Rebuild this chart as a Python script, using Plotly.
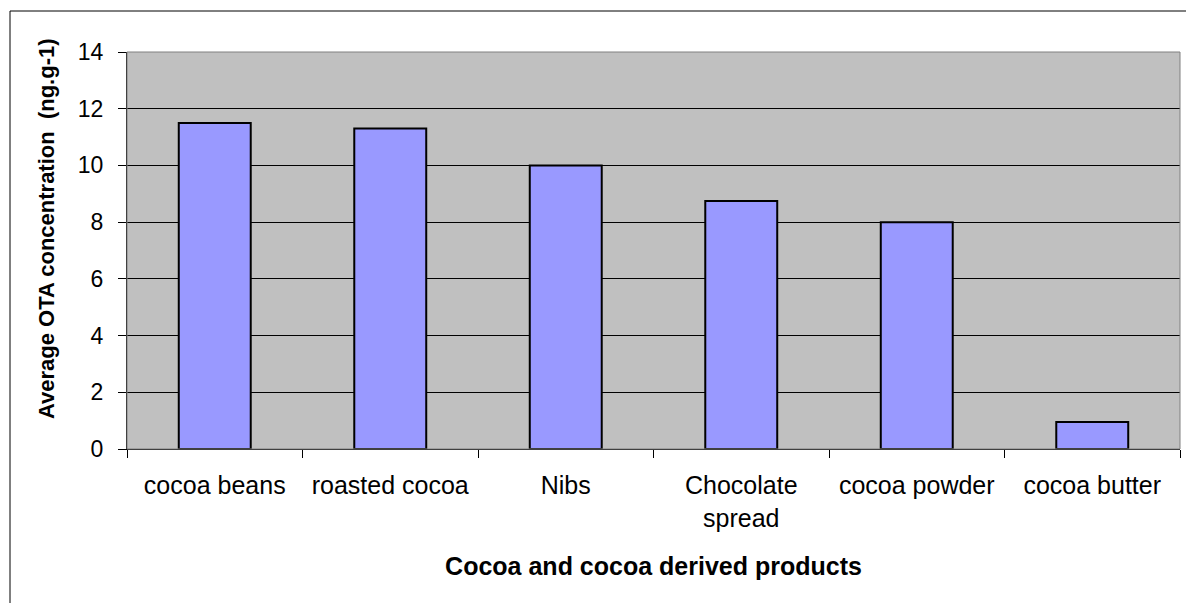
import plotly.graph_objects as go

categories = ["cocoa beans", "roasted cocoa", "Nibs", "Chocolate<br>spread", "cocoa powder", "cocoa butter"]
values = [11.5, 11.3, 10.0, 8.75, 8.0, 0.95]
y_ticks = [0, 2, 4, 6, 8, 10, 12, 14]

W, H = 1186, 603
L, R, T, B = 127, 1180, 52, 449

fig = go.Figure(go.Bar(
    x=categories, y=values,
    marker=dict(color="#9999FF", line=dict(color="black", width=2)),
    width=0.41,
))

pw, ph = R - L, B - T
fig.update_layout(
    width=W, height=H,
    margin=dict(l=L, r=W - R, t=T, b=H - B, pad=0),
    paper_bgcolor="white", plot_bgcolor="#C0C0C0",
    font=dict(family="Liberation Sans, Arial", size=24, color="black"),
    showlegend=False,
    xaxis=dict(
        tickson="boundaries", ticks="outside", ticklen=8, tickcolor="black",
        showline=True, linecolor="black", linewidth=1,
        showgrid=False, ticklabelstandoff=14,
        title=dict(text="<b>Cocoa and cocoa derived products</b>", standoff=26,
                   font=dict(size=25)),
        tickfont=dict(size=25),
    ),
    yaxis=dict(
        range=[0, 14], tickvals=y_ticks, ticks="outside", ticklen=8,
        tickcolor="black", showline=True, linecolor="black", linewidth=1,
        showgrid=True, gridcolor="black", gridwidth=1, zeroline=False,
        ticklabelstandoff=10,
        tickfont=dict(size=23),
    ),
    annotations=[
        dict(text="<b>Average OTA concentration  (ng.g-1)</b>",
             xref="paper", yref="paper",
             x=(46 - L) / pw, y=(B - 229) / ph,
             xanchor="center", yanchor="middle", textangle=-90,
             showarrow=False, font=dict(size=22)),
    ],
    shapes=[
        dict(type="rect", xref="paper", yref="paper",
             x0=0, x1=1, y0=0, y1=1, line=dict(color="#808080", width=1)),
        dict(type="rect", xref="paper", yref="paper",
             x0=(10 - L) / pw, x1=(W + 20 - L) / pw,
             y0=(B - (H + 20)) / ph, y1=(B - 11) / ph,
             line=dict(color="black", width=1)),
    ],
)

fig.write_html("out.html")
